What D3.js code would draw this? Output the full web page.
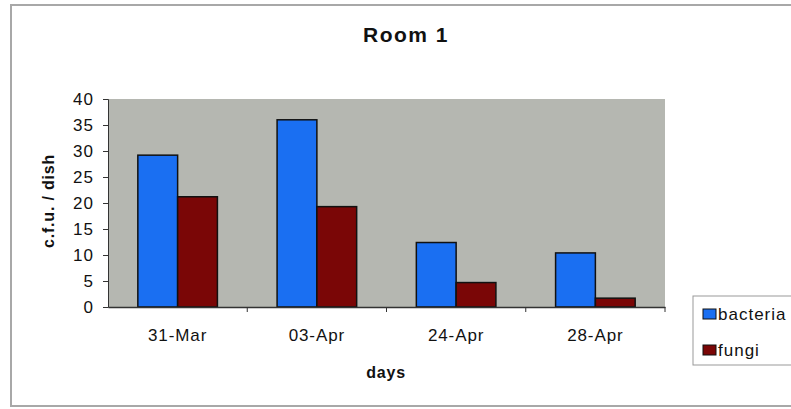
<!DOCTYPE html>
<html>
<head>
<meta charset="utf-8">
<script src="https://cdn.jsdelivr.net/npm/d3@7"></script>
<style>
  body { margin: 0; background: #fff; }
  text { font-family: "Liberation Sans", Arial, sans-serif; fill: #111; }
</style>
</head>
<body>
<div id="chart"></div>
<script>
// Chart data
const days = ["31-Mar", "03-Apr", "24-Apr", "28-Apr"];
const seriesNames = ["bacteria", "fungi"];
const bacteria = [29.2, 36, 12.4, 10.4];
const fungi = [21.2, 19.3, 4.7, 1.7];
const yTicks = [0, 5, 10, 15, 20, 25, 30, 35, 40];

const width = 791;
const height = 409;
const colors = { bacteria: "#1a6ff2", fungi: "#7a0606" };

const margin = { top: 99, right: 126, bottom: 102, left: 108 };
const plotW = width - margin.left - margin.right;
const plotH = height - margin.top - margin.bottom;

const svg = d3.select("#chart")
    .append("svg")
    .attr("width", width)
    .attr("height", height);

// outer frame of the chart
svg.append("rect")
    .attr("x", 11).attr("y", 5)
    .attr("width", 800).attr("height", 401)
    .attr("fill", "#fff")
    .attr("stroke", "#a8a8a8")
    .attr("stroke-width", 2);

// title
svg.append("text")
    .attr("x", 406).attr("y", 42)
    .attr("text-anchor", "middle")
    .attr("font-size", 21)
    .attr("font-weight", "bold")
    .attr("letter-spacing", "1.5px")
    .text("Room 1");

const g = svg.append("g")
    .attr("transform", "translate(" + margin.left + "," + margin.top + ")");

// gray plot area
g.append("rect")
    .attr("width", plotW)
    .attr("height", plotH)
    .attr("fill", "#b5b7b1");

const x = d3.scaleBand().domain(days).range([0, plotW]).padding(0);
const xSub = d3.scaleBand().domain(seriesNames).range([0, x.bandwidth()])
    .paddingInner(0).paddingOuter(0.75);
const y = d3.scaleLinear().domain([0, 40]).range([plotH, 0]);

// bars
const rows = days.map((d, i) => ({ day: d, bacteria: bacteria[i], fungi: fungi[i] }));
const groups = g.selectAll(".grp")
    .data(rows)
    .enter().append("g")
    .attr("transform", d => "translate(" + x(d.day) + ",0)");

groups.selectAll("rect")
    .data(d => seriesNames.map(s => ({ key: s, value: d[s] })))
    .enter().append("rect")
    .attr("x", d => xSub(d.key))
    .attr("y", d => y(d.value))
    .attr("width", xSub.bandwidth())
    .attr("height", d => plotH - y(d.value))
    .attr("fill", d => colors[d.key])
    .attr("stroke", "#111")
    .attr("stroke-width", 1.5);

// y axis
const yAxis = g.append("g")
    .call(d3.axisLeft(y).tickValues(yTicks).tickSize(5).tickPadding(9));
yAxis.selectAll("text").attr("font-size", 17).attr("letter-spacing", "1px");
yAxis.selectAll("line, path").attr("stroke", "#333");

// x axis labels
const xAxis = g.append("g")
    .attr("transform", "translate(0," + plotH + ")")
    .call(d3.axisBottom(x).tickSize(0).tickPadding(22));
xAxis.selectAll("text").attr("font-size", 17).attr("letter-spacing", "0.9px");
xAxis.select("path").attr("stroke", "#333").attr("stroke-width", 1.5);

// category separator ticks
g.append("g")
    .selectAll("line")
    .data(days)
    .enter().append("line")
    .attr("x1", d => x(d) + x.step())
    .attr("x2", d => x(d) + x.step())
    .attr("y1", plotH)
    .attr("y2", plotH + 5)
    .attr("stroke", "#333");

// axis titles
svg.append("text")
    .attr("x", 386).attr("y", 378)
    .attr("text-anchor", "middle")
    .attr("font-size", 16)
    .attr("font-weight", "bold")
    .attr("letter-spacing", "0.8px")
    .text("days");

svg.append("text")
    .attr("transform", "translate(54,201) rotate(-90)")
    .attr("text-anchor", "middle")
    .attr("font-size", 16)
    .attr("font-weight", "bold")
    .attr("letter-spacing", "0.8px")
    .text("c.f.u. / dish");

// legend
const legend = svg.append("g").attr("transform", "translate(693,296)");
legend.append("rect")
    .attr("width", 120).attr("height", 69)
    .attr("fill", "#fff")
    .attr("stroke", "#999");

legend.selectAll(".item")
    .data(seriesNames)
    .enter().append("g")
    .attr("transform", (d, i) => "translate(10," + (13 + i * 36) + ")")
    .each(function (d) {
        const item = d3.select(this);
        item.append("rect")
            .attr("width", 13).attr("height", 10)
            .attr("fill", colors[d])
            .attr("stroke", "#111");
        item.append("text")
            .attr("x", 15).attr("y", 11)
            .attr("font-size", 17)
            .attr("letter-spacing", "1px")
            .text(d);
    });
</script>
</body>
</html>
